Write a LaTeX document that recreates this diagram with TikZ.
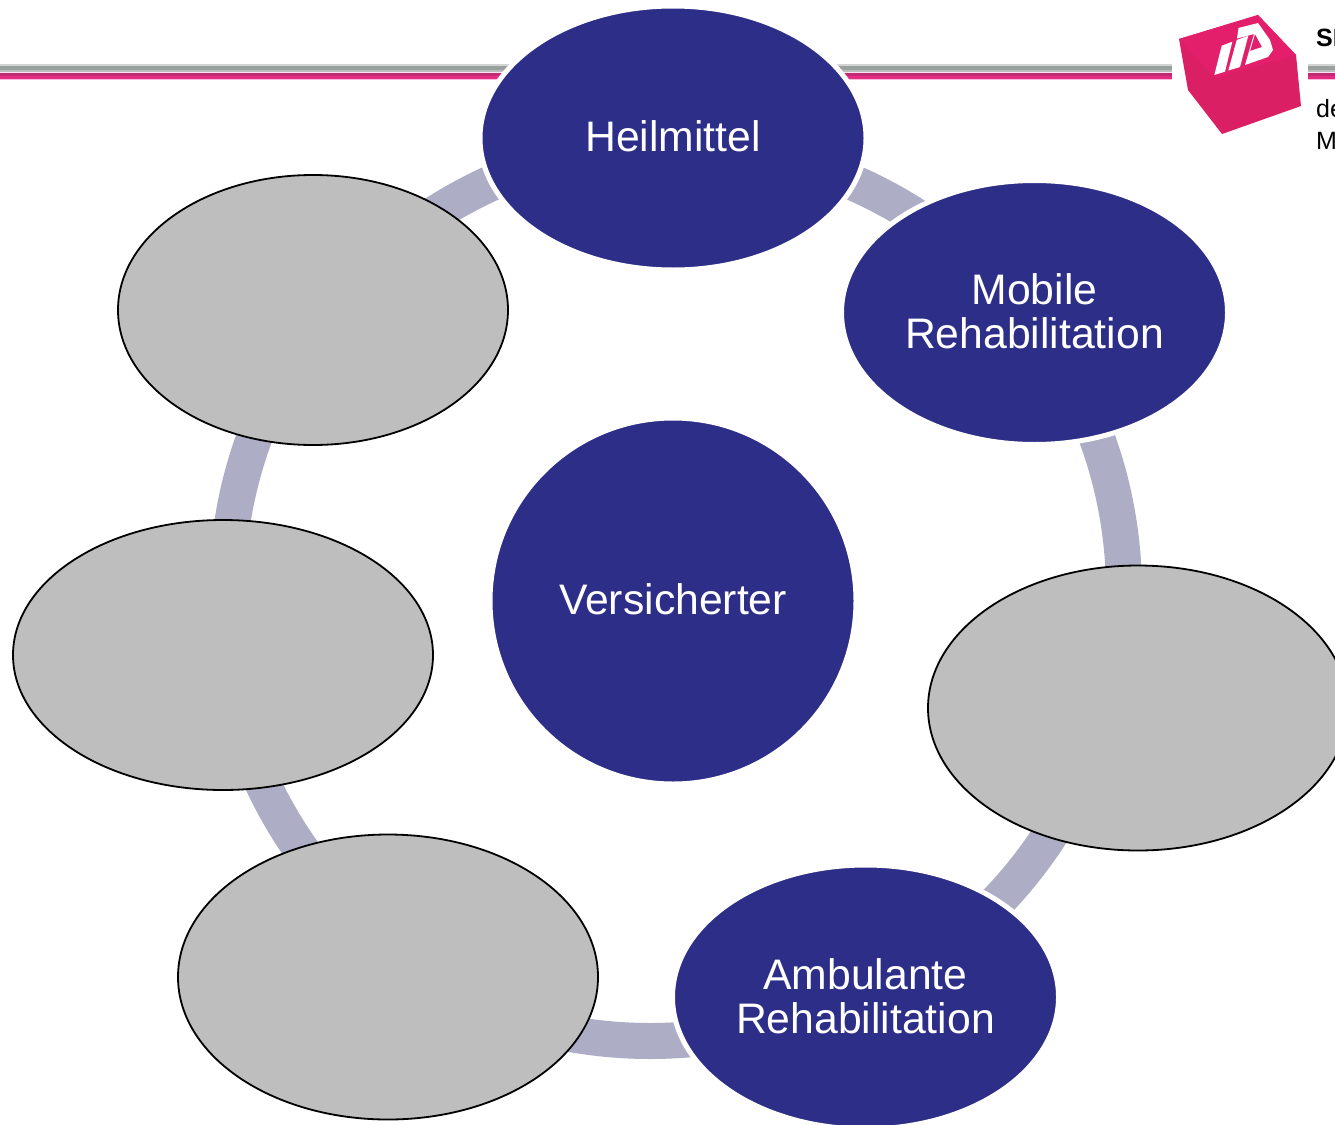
\documentclass[tikz,border=0pt]{standalone}
\usepackage{fontspec}
\usetikzlibrary{shapes.geometric}
\setmainfont{Liberation Sans}
\definecolor{navy}{HTML}{2D2E87}
\definecolor{band}{HTML}{ADAEC6}
\definecolor{greyfill}{HTML}{BEBEBE}
\definecolor{rulegreya}{HTML}{D2D5D4}
\definecolor{rulegreyb}{HTML}{9AA09E}
\definecolor{rulegreyc}{HTML}{B9BDBC}
\definecolor{rulelight}{HTML}{F6E4F0}
\definecolor{rulepinka}{HTML}{BF2A73}
\definecolor{rulepinkb}{HTML}{E42C82}
\definecolor{rulepinkc}{HTML}{F6BBD6}
\definecolor{cube}{HTML}{DB1F65}
\definecolor{cubetop}{HTML}{E31F6C}
\newcommand\lift{\rule[-4pt]{0pt}{4pt}}
\newcommand\liftb{\rule[-2pt]{0pt}{2pt}}
\tikzset{
  bluenode/.style={ellipse,draw=white,line width=5pt,fill=navy,text=white,inner sep=0pt,outer sep=0pt,align=center,font=\fontsize{42.7}{44}\selectfont},
  greynode/.style={ellipse,draw=black,line width=1.8pt,fill=greyfill,inner sep=0pt,outer sep=0pt},
  ringband/.style={draw=band,line width=36pt},
  logotext/.style={anchor=base west,inner sep=0pt,text=black,font=\fontsize{25}{25}\selectfont}
}
\begin{document}
\begin{tikzpicture}[x=1pt,y=-1pt]
\useasboundingbox (0,0) rectangle (1335,1124);
\clip (0,0) rectangle (1335,1124);
\fill[white] (0,0) rectangle (1335,1124);
% header rule
\foreach \a/\b in {0/1172,1308/1335}{
  \fill[rulegreya] (\a,64.5) rectangle (\b,66);
  \fill[rulegreyb] (\a,66) rectangle (\b,70);
  \fill[rulegreyc] (\a,70) rectangle (\b,71.5);
  \fill[rulelight] (\a,71.5) rectangle (\b,73);
  \fill[rulepinka] (\a,73) rectangle (\b,75.5);
  \fill[rulepinkb] (\a,75.5) rectangle (\b,79);
  \fill[rulepinkc] (\a,79) rectangle (\b,80);
}
% ring segments: x0/y0/x1/y1 of the visible window, then the centre of the arc
\foreach \xa/\ya/\xb/\yb/\cx/\cy in {
   400/150/520/240/677/592,
   840/150/940/240/673/594,
   1060/420/1160/580/675/592,
   970/830/1080/920/673/591,
   560/1000/700/1070/650/592,
   230/770/320/860/669/592,
   200/420/280/530/676/592}{
  \begin{scope}
    \clip (\xa,\ya) rectangle (\xb,\yb);
    \draw[ringband] (\cx,\cy) circle[radius=449pt];
  \end{scope}
}
% logo
\fill[cube] (1179,39) -- (1258,15) -- (1296,55) -- (1301,106) -- (1222,134) -- (1188,90) -- cycle;
\fill[cubetop] (1179,39) -- (1258,15) -- (1296,55) -- (1215,78) -- cycle;
\fill[white] (1214.3,75) -- (1221.7,45.7) -- (1232.3,41.7) -- (1225,71.7) -- cycle;
\fill[white] (1228.3,70.5) -- (1236.7,40) -- (1248.3,35.7) -- (1240,67) -- cycle;
\fill[white,even odd rule] (1245,65) -- (1254,34) -- (1237,38.5) -- (1238.5,28) -- (1258,23) -- (1270,40) -- (1273,50) -- (1268,57) -- cycle
  (1250,51) -- (1262,47) -- (1255,34) -- cycle;
\node[logotext,font=\fontsize{25}{25}\selectfont\bfseries] (logoa) at (1316,47) {SI};
\node[logotext] (logob) at (1316,117) {de};
\node[logotext] (logoc) at (1316,149) {M};
% nodes
\node[greynode,minimum width=390pt,minimum height=270pt] (g1) at (313,310) {};
\node[greynode,minimum width=420pt,minimum height=270pt] (g2) at (223,655) {};
\node[greynode,minimum width=420pt,minimum height=285pt] (g3) at (388,977) {};
\node[greynode,minimum width=420pt,minimum height=285pt] (g4) at (1138,708) {};
\node[bluenode,minimum width=386pt,minimum height=264pt] (heil) at (673,138) {Heilmittel\lift};
\node[bluenode,minimum width=386pt,minimum height=264pt] (mobil) at (1034.5,312.5) {Mobile\\Rehabilitation\liftb};
\node[bluenode,minimum width=386pt,minimum height=264pt] (amb) at (865.5,997) {Ambulante\\Rehabilitation\liftb};
\node[bluenode,minimum width=366pt,minimum height=366pt] (vers) at (673,601) {Versicherter\lift};
\end{tikzpicture}
\end{document}
